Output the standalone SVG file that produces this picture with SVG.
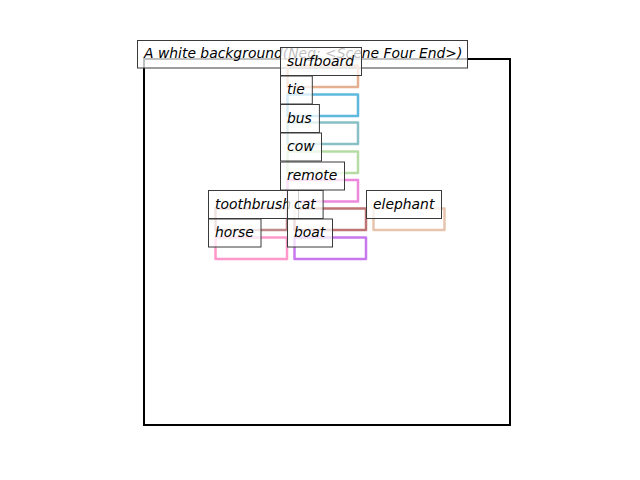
<svg xmlns="http://www.w3.org/2000/svg" width="640" height="480" viewBox="0 0 640 480">
<style>
.lbl{fill:#fff;fill-opacity:0.75;stroke:#3a3a3a;stroke-width:1}
.t{font-family:"DejaVu Sans","Liberation Sans",sans-serif;font-style:italic;font-size:13.9px;fill:#000}
.bb{fill:none;stroke-width:2.5;stroke-linejoin:round}
</style>
<rect width="640" height="480" fill="#fff"/>
<rect id="frame" x="144" y="59" width="366" height="366" fill="none" stroke="#000" stroke-width="2"/>
<g id="title">
<rect class="lbl" x="137.5" y="40.5" width="330" height="27.5"/>
<text class="t" x="144" y="58">A white background(Neg: &lt;Scene Four End&gt;)</text>
</g>
<g id="boxes">
<rect class="bb" x="287.5" y="65.5" width="70.5" height="21.5" stroke="#e4b091"/>
<rect class="bb" x="287.5" y="94.5" width="70.5" height="21.5" stroke="#5db9de"/>
<rect class="bb" x="287.5" y="122.5" width="70.5" height="21.5" stroke="#88c0c6"/>
<rect class="bb" x="287.5" y="151.5" width="70.5" height="21.5" stroke="#b6dca5"/>
<rect class="bb" x="287.5" y="180" width="70.5" height="21.5" stroke="#ee88dc"/>
<rect class="bb" x="215.5" y="208.5" width="71.5" height="21.5" stroke="#c08a8a"/>
<rect class="bb" x="294.5" y="208.5" width="71.5" height="21.5" stroke="#bf7474"/>
<rect class="bb" x="373.5" y="208.5" width="71" height="21.5" stroke="#e6c4ae"/>
<rect class="bb" x="215.5" y="237.5" width="71.5" height="21.5" stroke="#ff98ca"/>
<rect class="bb" x="294.5" y="237.5" width="71.5" height="21.5" stroke="#c878ef"/>
</g>
<g id="surfboard"><rect class="lbl" x="280.5" y="47.5" width="81" height="28"/><text class="t" x="287" y="65.5">surfboard</text></g>
<g id="tie"><rect class="lbl" x="280.5" y="76" width="31.8" height="28"/><text class="t" x="287" y="94">tie</text></g>
<g id="bus"><rect class="lbl" x="280.5" y="104.5" width="38.9" height="28"/><text class="t" x="287" y="122.5">bus</text></g>
<g id="cow"><rect class="lbl" x="280.5" y="133" width="41" height="28"/><text class="t" x="287" y="151">cow</text></g>
<g id="remote"><rect class="lbl" x="280.5" y="162" width="64" height="28"/><text class="t" x="287" y="180">remote</text></g>
<g id="toothbrush"><rect class="lbl" x="208.5" y="190.5" width="90" height="28"/><text class="t" x="215" y="208.5">toothbrush</text></g>
<g id="cat"><rect class="lbl" x="287.5" y="190.5" width="35.6" height="28"/><text class="t" x="294" y="208.5">cat</text></g>
<g id="elephant"><rect class="lbl" x="366.5" y="190.5" width="75" height="28"/><text class="t" x="373" y="208.5">elephant</text></g>
<g id="horse"><rect class="lbl" x="208.5" y="219" width="52.5" height="28"/><text class="t" x="215" y="237">horse</text></g>
<g id="boat"><rect class="lbl" x="287.5" y="219" width="45" height="28"/><text class="t" x="294" y="237">boat</text></g>
</svg>
